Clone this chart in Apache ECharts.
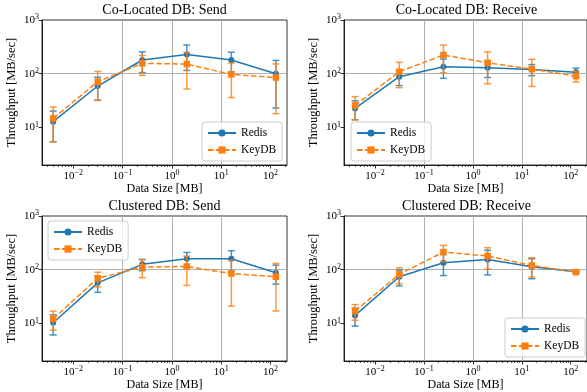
<!DOCTYPE html>
<html>
<head>
<meta charset="utf-8">
<script src="https://cdn.jsdelivr.net/npm/echarts@6/dist/echarts.min.js"></script>
<style>
html,body{margin:0;padding:0;background:#ffffff;}
#chart{width:587px;height:392px;}
</style>
</head>
<body>
<div id="chart"></div>
<script>
// ---------------- data ----------------
const dataSizesMB = [0.00390625, 0.03125, 0.25, 2, 16, 128];
const xTickValues = [0.01, 0.1, 1, 10, 100];
const yTickValues = [10, 100, 1000];
const xAxisMin = 0.00232, xAxisMax = 215;
const yAxisMin = 2, yAxisMax = 1000;
const panelTitles = ['Co-Located DB: Send', 'Co-Located DB: Receive', 'Clustered DB: Send', 'Clustered DB: Receive'];
const seriesNames = ['Redis', 'KeyDB'];
const xAxisTitle = 'Data Size [MB]';
const yAxisTitle = 'Throughput [MB/sec]';

const colocSendRedisMean = [12.8, 59, 180, 229, 180, 100];
const colocSendRedisStd  = [7.4, 27, 75, 114, 71, 77];
const colocSendKeydbMean = [14.7, 71, 156, 151, 97, 85];
const colocSendKeydbStd  = [9.3, 39, 63, 99, 61, 67];

const colocRecvRedisMean = [22.6, 88, 135, 129, 120, 106];
const colocRecvRedisStd  = [8.7, 28, 53, 44, 28, 21];
const colocRecvKeydbMean = [25.7, 109, 223, 160, 122, 90];
const colocRecvKeydbStd  = [11.8, 54, 119, 95, 64, 20];

const clustSendRedisMean = [10.3, 57, 126, 160, 160, 88];
const clustSendRedisStd  = [4.2, 19, 30, 50, 66, 34];
const clustSendKeydbMean = [12.2, 69, 112, 115, 85, 74];
const clustSendKeydbStd  = [4.7, 21, 41, 64, 64, 57];

const clustRecvRedisMean = [14.1, 74, 135, 155, 114, 92];
const clustRecvRedisStd  = [5.2, 24, 57, 75, 46, 4];
const clustRecvKeydbMean = [17, 82, 213, 180, 120, 90];
const clustRecvKeydbStd  = [5.5, 27, 71, 77, 47, 5];

// ---------------- layout / style ----------------
const FONT = "'Liberation Serif', 'Times New Roman', serif";
const BLUE = '#1f77b4', ORANGE = '#ff7f0e';
const GW = 245, GH = 145;

const panels = [
  {title: panelTitles[0], redis: [colocSendRedisMean, colocSendRedisStd], keydb: [colocSendKeydbMean, colocSendKeydbStd], left: 42, top: 20, lgLeft: 202, lgTop: 122},
  {title: panelTitles[1], redis: [colocRecvRedisMean, colocRecvRedisStd], keydb: [colocRecvKeydbMean, colocRecvKeydbStd], left: 344, top: 20, lgLeft: 351, lgTop: 122},
  {title: panelTitles[2], redis: [clustSendRedisMean, clustSendRedisStd], keydb: [clustSendKeydbMean, clustSendKeydbStd], left: 42, top: 216, lgLeft: 48, lgTop: 221},
  {title: panelTitles[3], redis: [clustRecvRedisMean, clustRecvRedisStd], keydb: [clustRecvKeydbMean, clustRecvKeydbStd], left: 344, top: 216, lgLeft: 505, lgTop: 318}
];

function powLabel(v) {
  const e = Math.round(Math.log10(v));
  return '{b|10}{s|' + (e < 0 ? '\u2212' : '') + Math.abs(e) + '}';
}
const labelRich = {
  b: {fontFamily: FONT, fontSize: 11, color: '#000', lineHeight: 14},
  s: {fontFamily: FONT, fontSize: 8, color: '#000', verticalAlign: 'top', lineHeight: 9}
};

function errRender(params, api) {
  const x = api.value(0), m = api.value(1), s = api.value(2);
  const top = api.coord([x, m + s]);
  const bot = api.coord([x, m - s]);
  const cap = 3.5;
  const style = {stroke: api.visual('color'), lineWidth: 1.5, opacity: 0.8};
  return {
    type: 'group',
    children: [
      {type: 'line', shape: {x1: top[0], y1: top[1], x2: bot[0], y2: bot[1]}, style: style},
      {type: 'line', shape: {x1: top[0] - cap, y1: top[1], x2: top[0] + cap, y2: top[1]}, style: style},
      {type: 'line', shape: {x1: bot[0] - cap, y1: bot[1], x2: bot[0] + cap, y2: bot[1]}, style: style}
    ]
  };
}

const option = {
  animation: false,
  backgroundColor: '#ffffff',
  title: [], grid: [], xAxis: [], yAxis: [], legend: [], series: []
};

panels.forEach(function (p, i) {
  option.title.push({
    text: p.title, left: p.left + GW / 2, top: p.top - 17, textAlign: 'center', padding: 0,
    textStyle: {fontFamily: FONT, fontSize: 14, fontWeight: 'normal', color: '#000'}
  });
  option.grid.push({
    left: p.left, top: p.top, width: GW, height: GH,
    show: true, borderColor: '#000', borderWidth: 0.8, backgroundColor: 'transparent'
  });
  option.xAxis.push({
    type: 'log', logBase: 10, gridIndex: i, min: xAxisMin, max: xAxisMax,
    name: xAxisTitle, nameLocation: 'middle', nameGap: 16,
    nameTextStyle: {fontFamily: FONT, fontSize: 12, color: '#000'},
    axisLine: {show: true, onZero: false, lineStyle: {color: '#000', width: 0.8}},
    axisTick: {show: true, customValues: xTickValues, length: 3.5, lineStyle: {color: '#000', width: 0.8}},
    minorTick: {show: true, splitNumber: 9, length: 2, lineStyle: {color: '#000', width: 0.6}},
    axisLabel: {customValues: xTickValues, formatter: powLabel, rich: labelRich, margin: 4, color: '#000'},
    splitLine: {show: true, showMinLine: false, showMaxLine: false, lineStyle: {color: '#b0b0b0', width: 1}}
  });
  option.yAxis.push({
    type: 'log', logBase: 10, gridIndex: i, min: yAxisMin, max: yAxisMax,
    name: yAxisTitle, nameLocation: 'middle', nameGap: 24, nameRotate: 90,
    nameTextStyle: {fontFamily: FONT, fontSize: 12.5, color: '#000'},
    axisLine: {show: true, onZero: false, lineStyle: {color: '#000', width: 0.8}},
    axisTick: {show: true, customValues: yTickValues, length: 3.5, lineStyle: {color: '#000', width: 0.8}},
    axisLabel: {customValues: yTickValues, formatter: powLabel, rich: labelRich, margin: 3, color: '#000'},
    splitLine: {show: true, showMinLine: false, showMaxLine: false, lineStyle: {color: '#b0b0b0', width: 1}}
  });
  option.legend.push({
    data: seriesNames, orient: 'vertical', left: p.lgLeft, top: p.lgTop,
    itemWidth: 28, itemHeight: 9, itemGap: 5,
    padding: [5, 6, 5, 5],
    backgroundColor: 'rgba(255,255,255,0.8)', borderColor: '#cccccc', borderWidth: 1, borderRadius: 3,
    textStyle: {fontFamily: FONT, fontSize: 11.5, color: '#000'},
    selectedMode: false
  });

  const defs = [
    {name: seriesNames[0], d: p.redis, color: BLUE, symbol: 'circle', dash: 'solid', z: 3},
    {name: seriesNames[1], d: p.keydb, color: ORANGE, symbol: 'rect', dash: [5.5, 2.5], z: 5}
  ];
  defs.forEach(function (s) {
    const mean = s.d[0], std = s.d[1];
    option.series.push({
      name: s.name + ' error', type: 'custom', xAxisIndex: i, yAxisIndex: i,
      renderItem: errRender, clip: true, z: s.z,
      itemStyle: {color: s.color},
      encode: {x: 0, y: 1},
      data: dataSizesMB.map(function (x, k) { return [x, mean[k], std[k]]; }),
      silent: true
    });
    option.series.push({
      name: s.name, type: 'line', xAxisIndex: i, yAxisIndex: i, z: s.z + 1,
      symbol: s.symbol, symbolSize: s.symbol === 'rect' ? 6.5 : 6,
      color: s.color,
      itemStyle: {color: s.color},
      lineStyle: {color: s.color, width: 1.5, type: s.dash},
      data: dataSizesMB.map(function (x, k) { return [x, mean[k]]; })
    });
  });
});

const chart = echarts.init(document.getElementById('chart'), null, {renderer: 'canvas'});
chart.setOption(option);
</script>
</body>
</html>
